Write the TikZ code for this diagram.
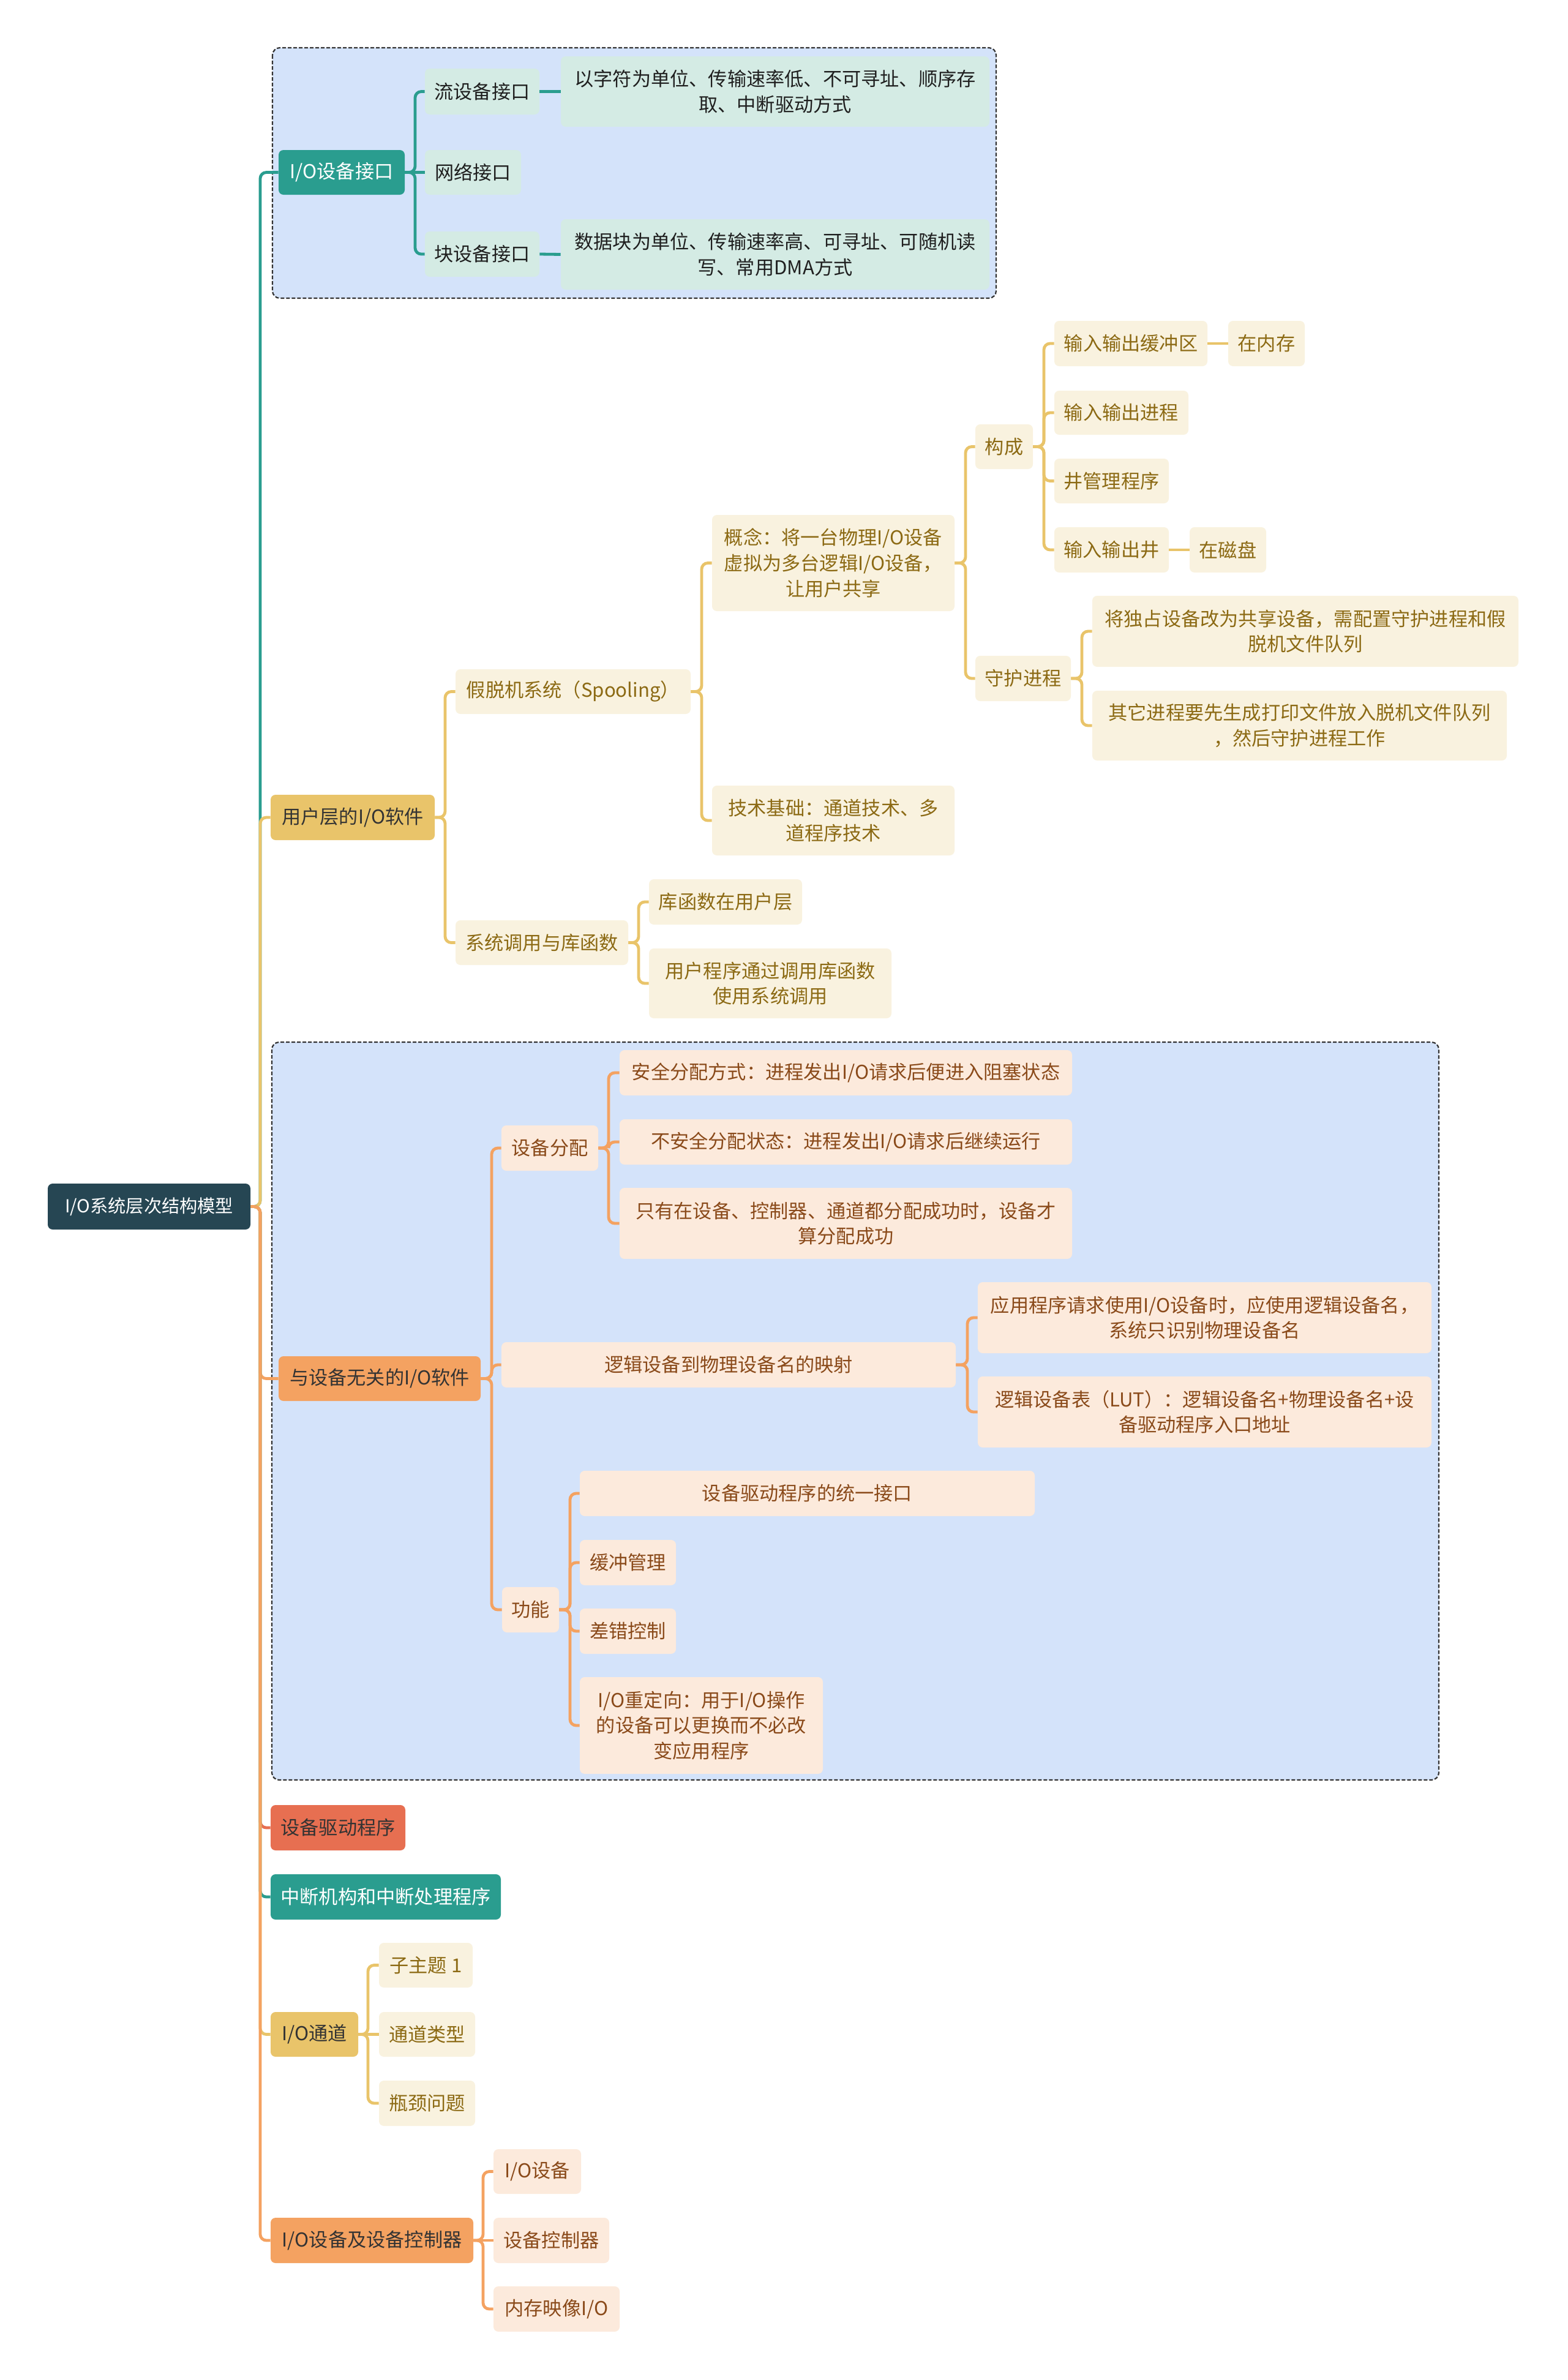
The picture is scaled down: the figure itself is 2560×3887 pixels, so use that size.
\documentclass[tikz,border=0pt]{standalone}
\usepackage{fontspec}
\setmainfont{Noto Sans CJK SC}
\definecolor{rootc}{HTML}{264653}
\definecolor{tealc}{HTML}{2A9D8F}
\definecolor{yelc}{HTML}{E9C46A}
\definecolor{orac}{HTML}{F4A261}
\definecolor{redc}{HTML}{E76F51}
\definecolor{tealL}{HTML}{D4EBE4}
\definecolor{yelL}{HTML}{F9F2DF}
\definecolor{oraL}{HTML}{FCEADC}
\definecolor{yelT}{HTML}{8C6A14}
\definecolor{oraT}{HTML}{8A4A1A}
\definecolor{darkT}{HTML}{333333}
\definecolor{frameF}{HTML}{D4E3FA}
\definecolor{frameD}{HTML}{333333}
\tikzset{
  box/.style={rounded corners=4pt, inner sep=0pt, align=center, font=\fontsize{15.6pt}{20.8pt}\selectfont},
  rootst/.style={box, fill=rootc, text=white, font=\fontsize{14.6pt}{19pt}\selectfont},
  tealst/.style={box, fill=tealc, text=white},
  yelst/.style={box, fill=yelc, text=darkT},
  orast/.style={box, fill=orac, text=darkT},
  redst/.style={box, fill=redc, text=darkT},
  tch/.style={box, fill=tealL, text=black!88},
  ych/.style={box, fill=yelL, text=yelT},
  och/.style={box, fill=oraL, text=oraT},
  lk/.style={line width=2.4pt, rounded corners=5pt},
  tl/.style={lk, draw=tealc},
  yl/.style={lk, draw=yelc},
  ol/.style={lk, draw=orac},
  rl/.style={lk, draw=redc},
  frame/.style={draw=frameD, fill=frameF, line width=1.1pt, dash pattern=on 3pt off 1.5pt, rounded corners=6pt}
}
\newcommand\nd[7]{\node[#6, minimum width={(#4-#2)*0.5pt}, minimum height={(#5-#3)*0.5pt}] (#1) at ({(#2+#4)/2},{(#3+#5)/2}) {#7};}
\newcommand\cn[4]{\draw[#1] (#3.west) -| (#4,0 |- #2.east) [sharp corners] -- (#2.east);}
\newcommand\st[3]{\draw[#1] (#2.east) -- (#3.west);}
\begin{document}
\begin{tikzpicture}[x=0.5pt,y=-0.5pt]
\useasboundingbox (0,0) rectangle (2560,3887);
\fill[white] (0,0) rectangle (2560,3887);
% frames
\draw[frame] (445,78) rectangle (1627,487);
\draw[frame] (444,1702) rectangle (2350,2907);
% root and level 1
\nd{root}{78}{1933}{409}{2008}{rootst}{I/O系统层次结构模型}
\nd{A}{455}{245}{661}{318}{tealst}{I/O设备接口}
\nd{B}{442}{1298}{710}{1372}{yelst}{用户层的I/O软件}
\nd{C}{455}{2215}{785}{2288}{orast}{与设备无关的I/O软件}
\nd{D}{442}{2948}{662}{3022}{redst}{设备驱动程序}
\nd{E}{442}{3061}{818}{3135}{tealst}{中断机构和中断处理程序}
\nd{F}{442}{3286}{585}{3359}{yelst}{I/O通道}
\nd{G}{442}{3622}{773}{3696}{orast}{I/O设备及设备控制器}
% A children
\nd{A1}{694}{112}{881}{187}{tch}{流设备接口}
\nd{A2}{694}{245}{851}{318}{tch}{网络接口}
\nd{A3}{694}{378}{881}{452}{tch}{块设备接口}
\nd{A1a}{916}{92}{1616}{207}{tch}{以字符为单位、传输速率低、不可寻址、顺序存\\取、中断驱动方式}
\nd{A3a}{916}{358}{1616}{473}{tch}{数据块为单位、传输速率高、可寻址、可随机读\\写、常用DMA方式}
% B children
\nd{B1}{744}{1093}{1128}{1166}{ych}{假脱机系统（Spooling）}
\nd{B2}{744}{1503}{1026}{1576}{ych}{系统调用与库函数}
\nd{B1a}{1163}{841}{1559}{998}{ych}{概念：将一台物理I/O设备\\虚拟为多台逻辑I/O设备，\\让用户共享}
\nd{B1b}{1163}{1283}{1559}{1397}{ych}{技术基础：通道技术、多\\道程序技术}
\nd{K}{1593}{693}{1687}{766}{ych}{构成}
\nd{S}{1593}{1071}{1749}{1145}{ych}{守护进程}
\nd{K1}{1722}{524}{1972}{598}{ych}{输入输出缓冲区}
\nd{K1a}{2006}{524}{2131}{598}{ych}{在内存}
\nd{K2}{1722}{638}{1941}{710}{ych}{输入输出进程}
\nd{K3}{1722}{749}{1909}{822}{ych}{井管理程序}
\nd{K4}{1722}{861}{1909}{935}{ych}{输入输出井}
\nd{K4a}{1943}{861}{2068}{935}{ych}{在磁盘}
\nd{S1}{1784}{973}{2480}{1089}{ych}{将独占设备改为共享设备，需配置守护进程和假\\脱机文件队列}
\nd{S2}{1784}{1128}{2461}{1242}{ych}{其它进程要先生成打印文件放入脱机文件队列\\，然后守护进程工作}
\nd{B2a}{1060}{1436}{1310}{1510}{ych}{库函数在用户层}
\nd{B2b}{1060}{1549}{1456}{1663}{ych}{用户程序通过调用库函数\\使用系统调用}
% C children
\nd{C1}{819}{1838}{977}{1912}{och}{设备分配}
\nd{C2}{819}{2192}{1561}{2266}{och}{逻辑设备到物理设备名的映射}
\nd{C3}{820}{2592}{913}{2666}{och}{功能}
\nd{C1a}{1012}{1715}{1751}{1789}{och}{安全分配方式：进程发出I/O请求后便进入阻塞状态}
\nd{C1b}{1012}{1828}{1751}{1902}{och}{不安全分配状态：进程发出I/O请求后继续运行}
\nd{C1c}{1012}{1940}{1751}{2056}{och}{只有在设备、控制器、通道都分配成功时，设备才\\算分配成功}
\nd{C2a}{1597}{2094}{2338}{2210}{och}{应用程序请求使用I/O设备时，应使用逻辑设备名，\\系统只识别物理设备名}
\nd{C2b}{1597}{2248}{2338}{2364}{och}{逻辑设备表（LUT）：逻辑设备名+物理设备名+设\\备驱动程序入口地址}
\nd{C3a}{947}{2402}{1690}{2476}{och}{设备驱动程序的统一接口}
\nd{C3b}{947}{2515}{1104}{2589}{och}{缓冲管理}
\nd{C3c}{947}{2627}{1104}{2701}{och}{差错控制}
\nd{C3d}{947}{2739}{1344}{2897}{och}{I/O重定向：用于I/O操作\\的设备可以更换而不必改\\变应用程序}
% F children
\nd{F1}{619}{3173}{772}{3246}{ych}{子主题 1}
\nd{F2}{619}{3286}{776}{3359}{ych}{通道类型}
\nd{F3}{619}{3398}{776}{3472}{ych}{瓶颈问题}
% G children
\nd{G1}{806}{3510}{949}{3583}{och}{I/O设备}
\nd{G2}{806}{3622}{995}{3696}{och}{设备控制器}
\nd{G3}{806}{3734}{1012}{3808}{och}{内存映像I/O}
% connectors: root
\cn{tl}{root}{A}{425}
\cn{yl}{root}{B}{425}
\cn{ol}{root}{C}{425}
\cn{rl}{root}{D}{425}
\cn{tl}{root}{E}{425}
\cn{yl}{root}{F}{425}
\cn{ol}{root}{G}{425}
% A
\cn{tl}{A}{A1}{678}
\st{tl}{A}{A2}
\cn{tl}{A}{A3}{678}
\st{tl}{A1}{A1a}
\st{tl}{A3}{A3a}
% B
\cn{yl}{B}{B1}{727}
\cn{yl}{B}{B2}{727}
\cn{yl}{B1}{B1a}{1146}
\cn{yl}{B1}{B1b}{1146}
\cn{yl}{B1a}{K}{1577}
\cn{yl}{B1a}{S}{1577}
\cn{yl}{K}{K1}{1705}
\cn{yl}{K}{K2}{1705}
\cn{yl}{K}{K3}{1705}
\cn{yl}{K}{K4}{1705}
\st{yl}{K1}{K1a}
\st{yl}{K4}{K4a}
\cn{yl}{S}{S1}{1767}
\cn{yl}{S}{S2}{1767}
\cn{yl}{B2}{B2a}{1043}
\cn{yl}{B2}{B2b}{1043}
% C
\cn{ol}{C}{C1}{803}
\cn{ol}{C}{C2}{803}
\cn{ol}{C}{C3}{803}
\cn{ol}{C1}{C1a}{994}
\cn{ol}{C1}{C1b}{994}
\cn{ol}{C1}{C1c}{994}
\cn{ol}{C2}{C2a}{1580}
\cn{ol}{C2}{C2b}{1580}
\cn{ol}{C3}{C3a}{931}
\cn{ol}{C3}{C3b}{931}
\cn{ol}{C3}{C3c}{931}
\cn{ol}{C3}{C3d}{931}
% F
\cn{yl}{F}{F1}{601}
\st{yl}{F}{F2}
\cn{yl}{F}{F3}{601}
% G
\cn{ol}{G}{G1}{789}
\st{ol}{G}{G2}
\cn{ol}{G}{G3}{789}
\end{tikzpicture}
\end{document}
